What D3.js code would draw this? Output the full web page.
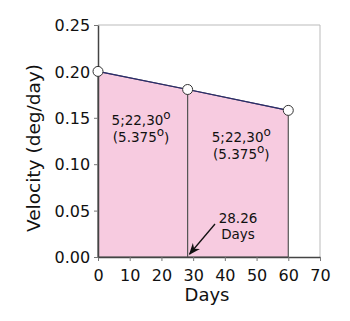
<!DOCTYPE html>
<html>
<head>
<meta charset="utf-8">
<script src="https://cdn.jsdelivr.net/npm/d3@7"></script>
<style>
  body { margin: 0; background: #fff; }
  svg { display: block; font-family: "DejaVu Sans", sans-serif; }
</style>
</head>
<body>
<div id="chart"></div>
<script>
// velocity points (days, deg/day)
const days = [0, 28.26, 60];
const velocity = [0.2, 0.1805, 0.158];
const xTicks = [0, 10, 20, 30, 40, 50, 60, 70];
const yTicks = [0, 0.05, 0.1, 0.15, 0.2, 0.25];
// area labels: [line1, line2]
const areaLabels = [["5;22,30", "(5.375"], ["5;22,30", "(5.375"]];
const noteLabel = ["28.26", "Days"];

const width = 350, height = 321;
const margin = {top: 25, right: 30, bottom: 64, left: 98};

const x = d3.scaleLinear().domain([0, 70]).range([margin.left, width - margin.right]);
const y = d3.scaleLinear().domain([0, 0.25]).range([height - margin.bottom, margin.top]);

const svg = d3.select("#chart").append("svg")
    .attr("width", width)
    .attr("height", height);

svg.append("defs").append("marker")
    .attr("id", "arrow")
    .attr("viewBox", "0 0 10 10")
    .attr("refX", 9).attr("refY", 5)
    .attr("markerWidth", 9).attr("markerHeight", 9)
    .attr("orient", "auto")
  .append("path")
    .attr("d", "M0,1 L10,5 L0,9 L3,5 Z")
    .attr("fill", "#111");

const pts = days.map((d, i) => ({d, v: velocity[i]}));

// two shaded trapezoids
for (let i = 0; i < pts.length - 1; i++) {
  const a = pts[i], b = pts[i + 1];
  svg.append("path")
      .attr("d", `M${x(a.d)},${y(0)} L${x(a.d)},${y(a.v)} L${x(b.d)},${y(b.v)} L${x(b.d)},${y(0)} Z`)
      .attr("fill", "#f7cbe0")
      .attr("stroke", "#555")
      .attr("stroke-width", 1.2);
}

// frame: light top/right spines
svg.append("line").attr("x1", x(0)).attr("x2", x(70)).attr("y1", y(0.25)).attr("y2", y(0.25))
    .attr("stroke", "#bbb").attr("stroke-width", 1);
svg.append("line").attr("x1", x(70)).attr("x2", x(70)).attr("y1", y(0.25)).attr("y2", y(0))
    .attr("stroke", "#bbb").attr("stroke-width", 1);

// axes
const xAxis = svg.append("g")
    .attr("transform", `translate(0,${y(0)})`)
    .call(d3.axisBottom(x).tickValues(xTicks).tickFormat(d3.format("d")).tickSize(4).tickSizeOuter(0));
const yAxis = svg.append("g")
    .attr("transform", `translate(${x(0)},0)`)
    .call(d3.axisLeft(y).tickValues(yTicks).tickFormat(d3.format(".2f")).tickSize(4).tickSizeOuter(0));

[xAxis, yAxis].forEach(g => {
  g.select(".domain").attr("stroke", "#444").attr("stroke-width", 1.5);
  g.selectAll(".tick line").attr("stroke", "#777");
  g.selectAll(".tick text").attr("fill", "#111").attr("font-size", 16)
      .attr("font-family", "DejaVu Sans, sans-serif");
});
xAxis.selectAll(".tick text").attr("dy", "1.05em");
yAxis.selectAll(".tick text").attr("dx", "-0.05em").attr("dy", "0.36em");

// velocity line
svg.append("path")
    .datum(pts)
    .attr("d", d3.line().x(p => x(p.d)).y(p => y(p.v)))
    .attr("fill", "none")
    .attr("stroke", "#2a2a6e")
    .attr("stroke-width", 1.2);

svg.selectAll("circle.pt")
  .data(pts)
  .join("circle")
    .attr("class", "pt")
    .attr("cx", p => x(p.d))
    .attr("cy", p => y(p.v))
    .attr("r", 5)
    .attr("fill", "#fff")
    .attr("stroke", "#333")
    .attr("stroke-width", 1);

// area labels with superscript "o"
const labelPos = [{cx: x(13.6), base: y(0.142)}, {cx: x(45.2), base: y(0.1236)}];
areaLabels.forEach((lines, i) => {
  const p = labelPos[i];
  lines.forEach((t, j) => {
    const txt = svg.append("text")
        .attr("x", p.cx)
        .attr("y", p.base + j * 17)
        .attr("text-anchor", "middle")
        .attr("font-size", 13.5)
        .attr("fill", "#111");
    txt.append("tspan").text(t);
    txt.append("tspan").attr("dy", "-0.55em").attr("font-size", 12).text("o");
    if (j === 1) txt.append("tspan").attr("dy", "0.55em").text(")");
  });
});

// 28.26 days note
noteLabel.forEach((t, j) => {
  svg.append("text")
      .attr("x", 238)
      .attr("y", 222.5 + j * 16.5)
      .attr("text-anchor", "middle")
      .attr("font-size", 13.5)
      .attr("fill", "#111")
      .text(t);
});
svg.append("line")
    .attr("x1", 215).attr("y1", 224)
    .attr("x2", x(days[1]) + 2).attr("y2", y(0) - 3)
    .attr("stroke", "#111").attr("stroke-width", 1.3)
    .attr("marker-end", "url(#arrow)");

// axis titles
svg.append("text")
    .attr("x", x(35) - 2)
    .attr("y", 301)
    .attr("text-anchor", "middle")
    .attr("font-size", 18)
    .attr("fill", "#111")
    .text("Days");
svg.append("text")
    .attr("transform", `translate(40,148) rotate(-90)`)
    .attr("text-anchor", "middle")
    .attr("font-size", 18.5)
    .attr("fill", "#111")
    .text("Velocity (deg/day)");
</script>
</body>
</html>
